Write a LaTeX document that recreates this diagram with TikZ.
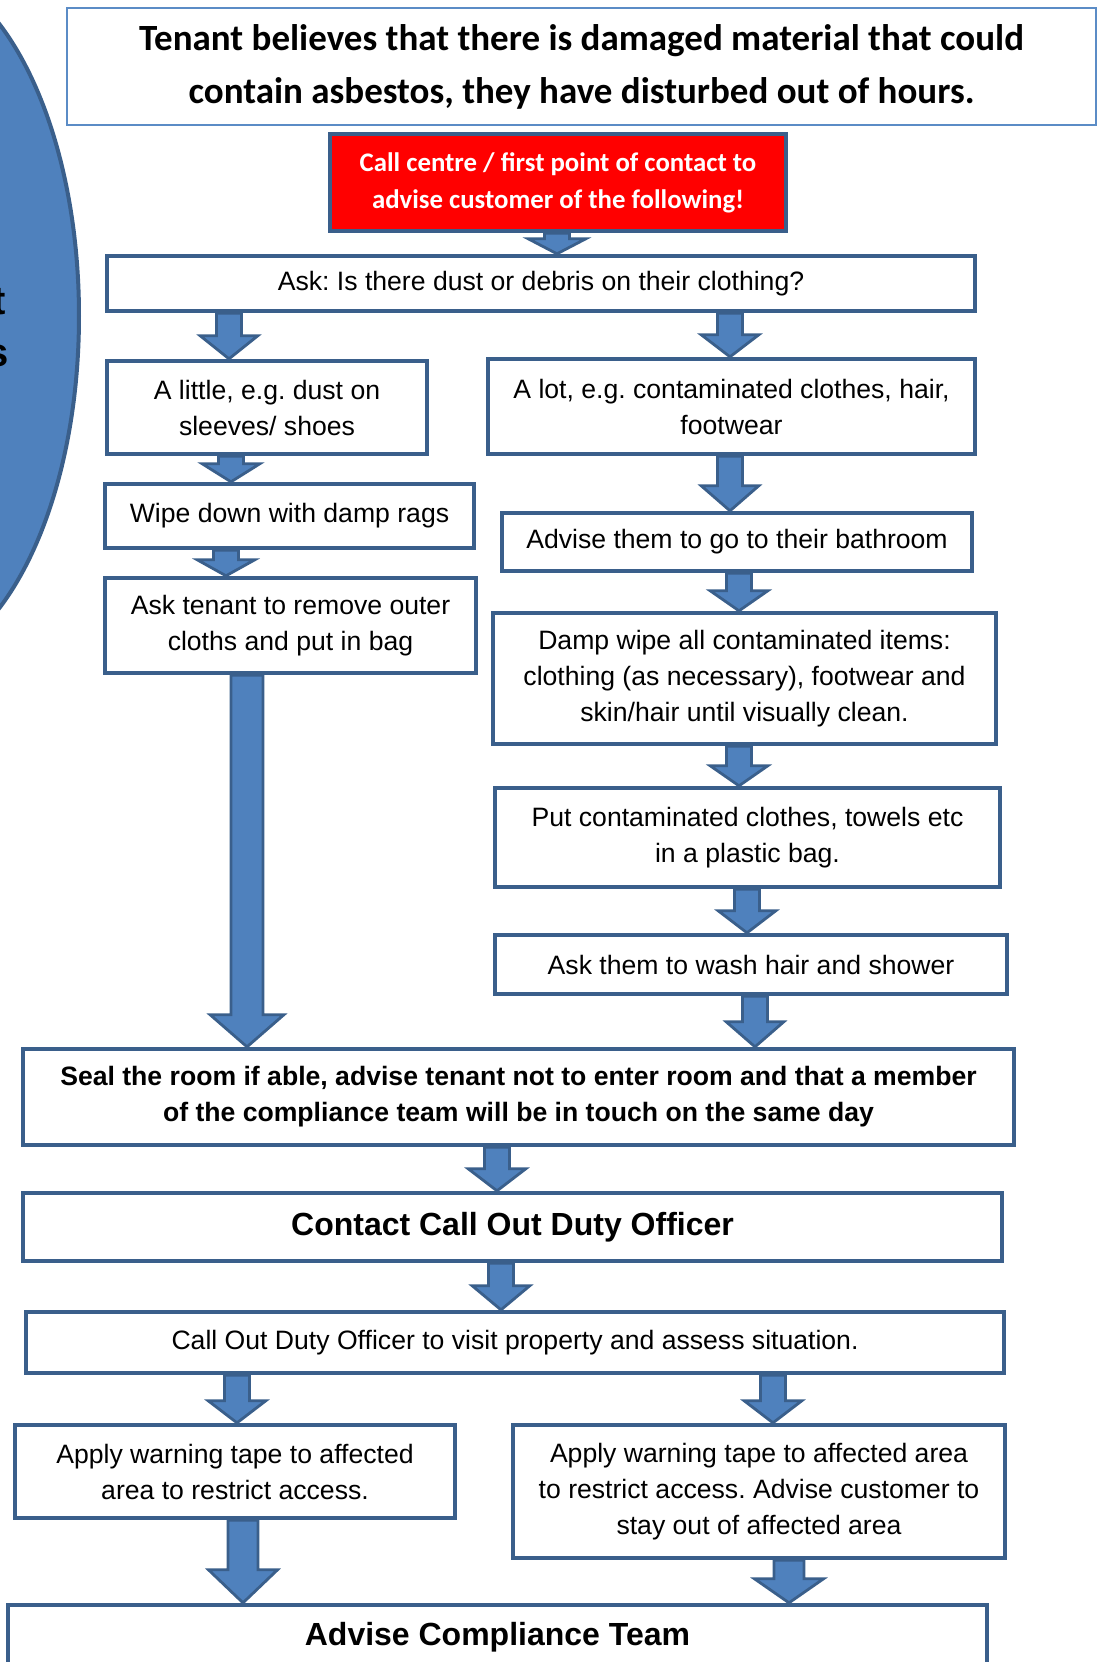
\documentclass[tikz,border=0pt]{standalone}
\usepackage{fontspec}
\setmainfont{Liberation Sans}
\newfontfamily\calibri{Carlito}
\frenchspacing
\usetikzlibrary{calc}
\pgfdeclarelayer{nodelayer}
\pgfdeclarelayer{arrowlayer}
\pgfsetlayers{main,nodelayer,arrowlayer}
\definecolor{boxblue}{HTML}{3A5F8B}
\definecolor{fillblue}{HTML}{4F81BD}
\definecolor{lightblue}{HTML}{5B8CC6}
\tikzstyle{box}=[draw=boxblue, line width=2.2pt, fill=white, align=center, inner sep=0pt, font=\fontsize{13.3}{18}\selectfont]
\tikzstyle{boldbox}=[box, font=\fontsize{13.3}{18}\selectfont\bfseries]
\tikzstyle{bigbox}=[box, font=\fontsize{16}{20}\selectfont\bfseries]
\tikzstyle{titlebox}=[box, draw=lightblue, line width=1pt, font=\fontsize{18.5}{26.5}\selectfont\calibri\bfseries]
\tikzstyle{redbox}=[box, fill=red, text=white, font=\fontsize{13.4}{18.5}\selectfont\calibri\bfseries]
\tikzstyle{blockarrow}=[draw=boxblue, line width=1.4pt, fill=fillblue, line join=miter]
\tikzstyle{bubble}=[draw=boxblue, line width=2pt, fill=fillblue]
\tikzstyle{bubbletext}=[font=\fontsize{20}{24}\selectfont\bfseries, anchor=east, inner sep=0pt]
% block arrow from node #2 down to node #3 at column #4, head length #5
\newcommand{\barrow}[5][12.5]{%
  \coordinate (s) at (#2.south -| #4,0);
  \coordinate (e) at (#3.north -| #4,0);
  \draw [style=blockarrow] ($(s)+(-#1,0)$) -- ($(s)+(#1,0)$) -- ($(e)+(#1,-#5)$)
    -- ($(e)+(2.3*#1,-#5)$) -- (e) -- ($(e)+(-2.3*#1,-#5)$) -- ($(e)+(-#1,-#5)$) -- cycle;}
\begin{document}
\begin{tikzpicture}[x=0.5pt,y=-0.5pt]
	\useasboundingbox (0,0) rectangle (1098,1662);
	\clip (0,0) rectangle (1098,1662);
	\draw [style=bubble] (-100,316) ellipse (179 and 351);
	\node [style=bubbletext] (t1) at (6,302) {t};
	\node [style=bubbletext] (t2) at (9,356) {s};
	\begin{pgfonlayer}{nodelayer}
		\node [style=titlebox, minimum width=514.5pt, minimum height=58.5pt] (1) at (581.5, 66.5) {\raisebox{-2pt}{\begin{tabular}{@{}c@{}}Tenant believes that there is damaged material that could\\contain asbestos, they have disturbed out of hours.\end{tabular}}};
		\node [style=redbox, minimum width=228pt, minimum height=48.5pt] (2) at (558, 182.5) {Call centre / first point of contact to\\advise customer of the following!};
		\node [style=box, minimum width=434pt, minimum height=27.5pt] (3) at (541, 283.5) {Ask: Is there dust or debris on their clothing?};
		\node [style=box, minimum width=160pt, minimum height=46.5pt] (4) at (267, 407.5) {A little, e.g. dust on\\sleeves/ shoes};
		\node [style=box, minimum width=243.5pt, minimum height=47.5pt] (5) at (731.5, 406.5) {A lot, e.g. contaminated clothes, hair,\\footwear};
		\node [style=box, minimum width=184.5pt, minimum height=32pt] (6) at (289.5, 516) {Wipe down with damp rags};
		\node [style=box, minimum width=185.5pt, minimum height=47.5pt] (7) at (290.5, 625.5) {Ask tenant to remove outer\\cloths and put in bag};
		\node [style=box, minimum width=235pt, minimum height=29pt] (8) at (737, 542) {Advise them to go to their bathroom};
		\node [style=box, minimum width=251.5pt, minimum height=65.5pt] (9) at (744.5, 678.5) {Damp wipe all contaminated items:\\clothing (as necessary), footwear and\\skin/hair until visually clean.};
		\node [style=box, minimum width=252.5pt, minimum height=49.5pt] (10) at (747.5, 837.5) {Put contaminated clothes, towels etc\\in a plastic bag.};
		\node [style=box, minimum width=256pt, minimum height=29.5pt] (11) at (751, 964.5) {Ask them to wash hair and shower};
		\node [style=boldbox, minimum width=495.5pt, minimum height=48pt] (12) at (518.5, 1097) {Seal the room if able, advise tenant not to enter room and that a member\\of the compliance team will be in touch on the same day};
		\node [style=bigbox, minimum width=489.5pt, minimum height=34pt] (13) at (512.5, 1227) {Contact Call Out Duty Officer};
		\node [style=box, minimum width=489pt, minimum height=30.5pt] (14) at (515, 1342.5) {Call Out Duty Officer to visit property and assess situation.};
		\node [style=box, minimum width=220pt, minimum height=46.5pt] (15) at (235, 1471.5) {Apply warning tape to affected\\area to restrict access.};
		\node [style=box, minimum width=246pt, minimum height=66.5pt] (16) at (759, 1491.5) {Apply warning tape to affected area\\to restrict access. Advise customer to\\stay out of affected area};
		\node [style=bigbox, minimum width=489.5pt, minimum height=32pt] (17) at (497.5, 1637) {Advise Compliance Team};
	\end{pgfonlayer}
	\begin{pgfonlayer}{arrowlayer}
		\barrow{2}{3}{557}{15}
		\barrow{3}{4}{229}{23}
		\barrow{3}{5}{730}{22}
		\barrow{4}{6}{231}{18}
		\barrow{6}{7}{226}{16}
		\barrow[16]{7}{12}{247}{32}
		\barrow{5}{8}{730}{25}
		\barrow{8}{9}{739}{20}
		\barrow{9}{10}{739}{20}
		\barrow{10}{11}{747}{22}
		\barrow{11}{12}{755}{25}
		\barrow{12}{13}{497}{22}
		\barrow{13}{14}{501}{24}
		\barrow{14}{15}{237}{22}
		\barrow{14}{16}{773}{22}
		\barrow[15]{15}{17}{243}{33}
		\barrow[15]{16}{17}{789}{24}
	\end{pgfonlayer}
\end{tikzpicture}
\end{document}
